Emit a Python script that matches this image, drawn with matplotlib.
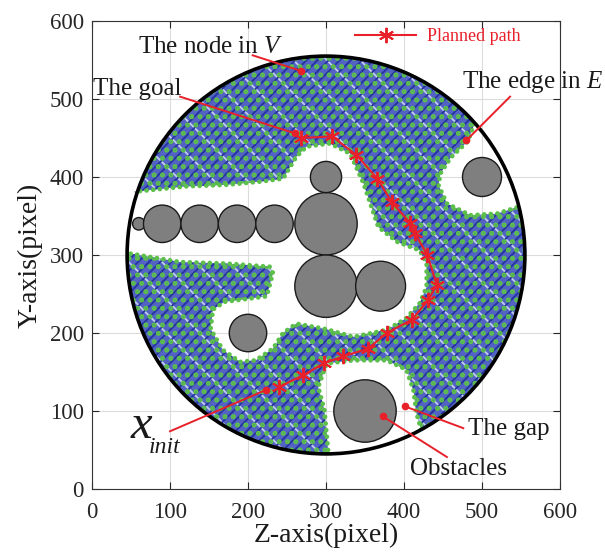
import numpy as np
import matplotlib
matplotlib.use('Agg')
import matplotlib.pyplot as plt
from matplotlib.patches import Circle, PathPatch
from matplotlib.path import Path

plt.rcParams['font.family'] = ['Liberation Serif', 'DejaVu Serif']
plt.rcParams['mathtext.fontset'] = 'custom'
plt.rcParams['mathtext.rm'] = 'Liberation Serif'
plt.rcParams['mathtext.it'] = 'Liberation Serif:italic'
plt.rcParams['hatch.linewidth'] = 1.3

# ---------------- data ----------------
ws_center = (300, 300)
ws_radius = 255

obs_z = [60, 90, 138, 186, 234, 300, 300, 300, 370, 500, 200, 350]
obs_y = [340, 340, 340, 340, 340, 340, 400, 260, 260, 400, 200, 100]
obs_r = [8, 24, 24, 24, 24, 40, 20, 40, 32, 25, 24, 40]

path_z = [240, 271, 297, 322, 354, 378, 410, 431, 442, 430, 414, 408, 384, 366, 339, 308, 268]
path_y = [131, 146, 161, 170, 180, 200, 217, 242, 262, 300, 328, 341, 368, 398, 428, 452, 450]

# frontier of the explored tree around the unexplored (white) areas
gap1_z = [53, 121, 173, 215, 245, 262, 275, 305, 331, 348, 367, 391, 420, 429, 429, 420, 403,
          378, 335, 300, 262, 245, 232, 210, 190, 168, 152, 155, 170, 224, 232, 228, 173, 113, 48]
gap1_y = [381, 388, 390, 394, 398, 426, 439, 443, 430, 392, 336, 317, 306, 289, 259, 238, 219,
          204, 195, 205, 212, 200, 180, 165, 163, 178, 205, 230, 240, 247, 277, 285, 289, 291, 302]
gap2_z = [490, 482, 460, 447, 444, 455, 485, 519, 548]
gap2_y = [468, 446, 425, 405, 390, 366, 351, 353, 362]
gap3_z = [422, 416, 412, 403, 378, 335, 301, 290, 298, 303]
gap3_y = [76, 97, 127, 153, 165, 165, 161, 131, 101, 46]

ann_text = ['The node in $V$', 'The goal', 'The edge in $E$', 'The gap', 'Obstacles']
ann_text_z = [59, 1, 474, 482, 408]
ann_text_y = [559, 505, 514, 69, 18]
ann_from_z = [206, 113, 536, 476, 455, 100]
ann_from_y = [556, 503, 503, 78, 41, 74]
ann_to_z = [268, 260, 480, 401, 373, 223]
ann_to_y = [536, 456, 447, 106, 93, 127]

xticks = [0, 100, 200, 300, 400, 500, 600]
yticks = [0, 100, 200, 300, 400, 500, 600]

RED = '#e8202a'
BLUE = '#24339f'
GREEN = '#5cc04a'

# ---------------- figure ----------------
fig = plt.figure(figsize=(6.05, 5.59), dpi=100)
ax = fig.add_axes([92 / 605, 70 / 559, 468 / 605, 468 / 559])
ax.set_xlim(0, 600)
ax.set_ylim(0, 600)

cx, cy = ws_center


def ring(z, y, sign):
    z = np.asarray(z, float)
    y = np.asarray(y, float)
    area = 0.5 * np.sum(z * np.roll(y, -1) - np.roll(z, -1) * y)
    if np.sign(area) != sign:
        z, y = z[::-1], y[::-1]
    return np.column_stack([z, y])


def close_on_boundary(z, y):
    a_end = np.arctan2(y[-1] - cy, z[-1] - cx)
    a_start = np.arctan2(y[0] - cy, z[0] - cx)
    d = (a_start - a_end + np.pi) % (2 * np.pi) - np.pi
    t = np.linspace(a_end, a_end + d, 30)
    return (list(z) + list(cx + ws_radius * np.cos(t)),
            list(y) + list(cy + ws_radius * np.sin(t)))


t = np.linspace(0, 2 * np.pi, 361)[:-1]
outer = ring(cx + ws_radius * np.cos(t), cy + ws_radius * np.sin(t), 1)
holes = [ring(*close_on_boundary(gap1_z, gap1_y), -1),
         ring(*close_on_boundary(gap2_z, gap2_y), -1),
         ring(*close_on_boundary(gap3_z, gap3_y), -1)]

verts, codes = [], []
for r in [outer] + holes:
    verts += list(r) + [r[0]]
    codes += [Path.MOVETO] + [Path.LINETO] * (len(r) - 1) + [Path.CLOSEPOLY]
tree_path = Path(verts, codes)

# tree texture (edges in blue, nodes in green)
ax.add_patch(PathPatch(tree_path, facecolor='#5263c4', edgecolor='none', zorder=1))
ax.add_patch(PathPatch(tree_path, facecolor='none', edgecolor='#c4cbf0', hatch='\\', lw=0, zorder=1.05))
ax.add_patch(PathPatch(tree_path, facecolor='none', edgecolor=BLUE, hatch='///', lw=0, zorder=1.1))
with plt.rc_context({'hatch.linewidth': 2.4}):
    ax.add_patch(PathPatch(tree_path, facecolor='none', edgecolor=GREEN, hatch='..', lw=0, zorder=1.2))
clip_disk = Circle(ws_center, ws_radius, transform=ax.transData)
for gz, gy in [(gap1_z, gap1_y), (gap2_z, gap2_y), (gap3_z, gap3_y)]:
    ln, = ax.plot(gz, gy, color=GREEN, lw=3.4, ls=(0, (0.01, 1.4)), dash_capstyle='round', zorder=1.3)
    ln.set_clip_path(clip_disk)

# obstacles and workspace boundary
for z, y, r in zip(obs_z, obs_y, obs_r):
    ax.add_patch(Circle((z, y), r, facecolor='#7f7f7f', edgecolor='#1a1a1a', lw=1.0, zorder=3))
ax.add_patch(Circle(ws_center, ws_radius, fill=False, edgecolor='black', lw=2.6, zorder=3))

# planned path
ax.plot(path_z, path_y, color=RED, lw=1.5, marker=(6, 2, 0), ms=11, mew=1.4,
        zorder=5, label='Planned path')

# annotations
for i, s in enumerate(ann_text):
    ax.text(ann_text_z[i], ann_text_y[i], s, fontsize=18, color='#1a1a1a',
            ha='left', va='baseline', clip_on=False, zorder=6)
ax.text(49, 65, 'x', fontsize=35, fontstyle='italic', color='#1a1a1a', va='baseline', zorder=6)
ax.text(73, 46, 'init', fontsize=17, fontstyle='italic', color='#1a1a1a', va='baseline', zorder=6)
for z0, y0, z1, y1 in zip(ann_from_z, ann_from_y, ann_to_z, ann_to_y):
    ax.plot([z0, z1], [y0, y1], color=RED, lw=1.4, zorder=6)
    ax.plot([z1], [y1], 'o', color=RED, ms=4.5, zorder=6)

leg = ax.legend(loc='center left', bbox_to_anchor=(0.562, 0.966), frameon=False,
                fontsize=13, labelcolor=RED, handlelength=3.4, handletextpad=0.6,
                borderpad=0, borderaxespad=0)

# axes styling
ax.set_xticks(xticks)
ax.set_yticks(yticks)
ax.tick_params(direction='in', top=True, right=True, length=5, width=0.8,
               labelsize=16.5, colors='#262626', pad=6)
ax.tick_params(axis='x', pad=9)
ax.grid(True, color='#dcdcdc', lw=0.8)
ax.set_axisbelow(True)
for sp in ax.spines.values():
    sp.set_color('#333333')
    sp.set_linewidth(0.8)
ax.set_xlabel('Z-axis(pixel)', fontsize=20, color='#1a1a1a', labelpad=0.5)
ax.set_ylabel('Y-axis(pixel)', fontsize=20, color='#1a1a1a', labelpad=5)

fig.savefig('out.png', dpi=100)
